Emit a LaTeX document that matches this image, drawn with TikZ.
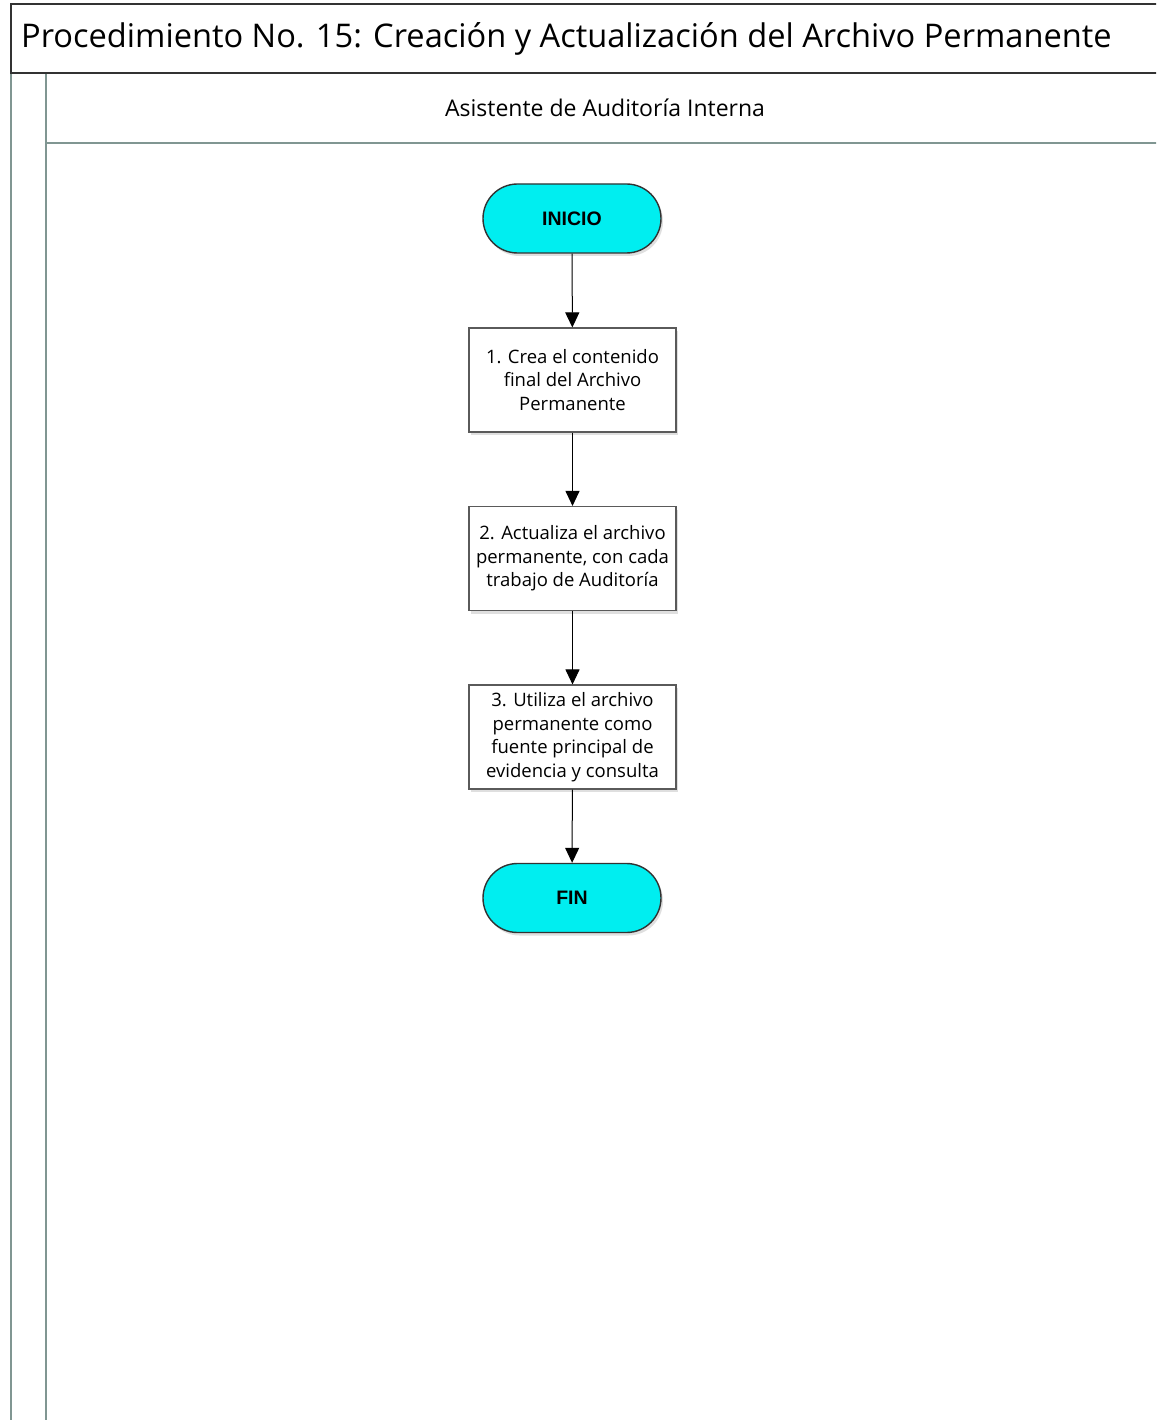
\documentclass[tikz,border=0pt]{standalone}
\usepackage{fontspec}
\setmainfont{Open Sans}
\newfontfamily\boldsans{Liberation Sans}
\usetikzlibrary{arrows.meta,shadows}
\definecolor{lanegray}{RGB}{128,150,146}
\definecolor{framegray}{RGB}{50,50,50}
\definecolor{termcyan}{RGB}{0,238,240}
\definecolor{boxborder}{RGB}{90,90,90}
\tikzset{
  termbox/.style={draw=framegray, line width=1.4pt, fill=termcyan, rounded corners=34.5pt,
    minimum width=178pt, minimum height=69pt, inner sep=0pt,
    font=\boldsans\bfseries\fontsize{19.5}{22}\selectfont,
    drop shadow={opacity=0.25, shadow xshift=2pt, shadow yshift=-3pt}},
  stepbox/.style={draw=boxborder, line width=1.1pt, fill=white,
    minimum width=207pt, minimum height=104pt, inner sep=0pt, align=center,
    font=\fontsize{18.5}{23.5}\selectfont,
    drop shadow={opacity=0.25, shadow xshift=2pt, shadow yshift=-3pt}},
  flowarrow/.style={-{Triangle[width=14pt,length=15pt]}, line width=1pt, black}
}
\begin{document}
\begin{tikzpicture}[x=1pt,y=-1pt]
\useasboundingbox (0,0) rectangle (1156,1420);
\fill[white] (0,0) rectangle (1156,1420);
\begin{scope}
\clip (0,0) rectangle (1156,1420);
% lane lines
\draw[lanegray, line width=1.8pt] (11,73) -- (11,1425);
\draw[lanegray, line width=1.8pt] (46,73) -- (46,1425);
\draw[lanegray, line width=1.4pt] (46,143) -- (1170,143);
% title box
\draw[framegray, line width=1.8pt] (11,4) rectangle (1170,73);
\end{scope}
\node[anchor=west, inner sep=0pt, font=\fontsize{32.6}{38}\selectfont] (title) at (21,39) {Procedimiento No. 15: Creación y Actualización del Archivo Permanente};
\node[inner sep=0pt, font=\fontsize{23}{27}\selectfont] (lane) at (605,108) {Asistente de Auditoría Interna};
% nodes
\node[termbox] (inicio) at (572,218.5) {INICIO};
\node[stepbox] (s1) at (572.5,380) {1. Crea el contenido\\final del Archivo\\Permanente};
\node[stepbox] (s2) at (572.5,558.5) {2. Actualiza el archivo\\permanente, con cada\\trabajo de Auditoría};
\node[stepbox] (s3) at (572.5,737) {3. Utiliza el archivo\\permanente como\\fuente principal de\\evidencia y consulta};
\node[termbox] (fin) at (572,898) {FIN};
% arrows
\draw[flowarrow] (inicio) -- (s1);
\draw[flowarrow] (s1) -- (s2);
\draw[flowarrow] (s2) -- (s3);
\draw[flowarrow] (s3) -- (fin);
\end{tikzpicture}
\end{document}
